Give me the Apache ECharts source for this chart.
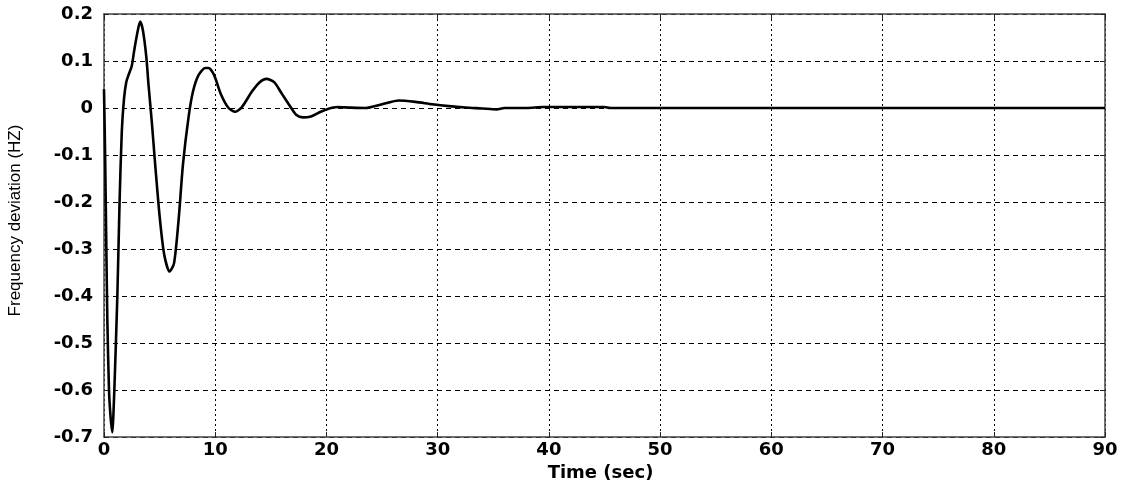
<!DOCTYPE html>
<html>
<head>
<meta charset="utf-8">
<script src="https://cdn.jsdelivr.net/npm/echarts@6/dist/echarts.min.js"></script>
<style>
  html, body { margin: 0; padding: 0; background: #fff; }
  #chart { width: 1131px; height: 486px; }
</style>
</head>
<body>
<div id="chart"></div>
<script>
// Frequency deviation response of the system over time
const timeSec = [
  0, 0.1, 0.2, 0.3, 0.45, 0.6, 0.75, 0.85, 1.0, 1.2, 1.4, 1.6, 1.8, 2.0, 2.2, 2.5, 2.7, 3.0, 3.25,
  3.5, 3.8, 4.0, 4.3, 4.6, 5.0, 5.4, 5.9, 6.3, 6.7, 7.1, 7.6, 8.0, 8.5, 9.1, 9.4, 9.9, 10.5,
  11.2, 11.8, 12.4, 13.3, 14.0, 14.6, 15.3, 16.0, 16.7, 17.3, 17.9, 18.6, 19.3, 20.0, 21.0,
  22.0, 23.5, 25.0, 26.5, 28.0, 29.5, 31.0, 32.5, 34.0, 35.3, 36.0, 38.0, 39.5, 42.0, 45.0,
  45.5, 50.0, 60.0, 70.0, 80.0, 90.0
];
const deviationHz = [
  0.04, -0.1, -0.28, -0.45, -0.6, -0.66, -0.69, -0.65, -0.55, -0.4, -0.2, -0.05, 0.02, 0.055, 0.07, 0.09, 0.12, 0.16, 0.184,
  0.165, 0.11, 0.05, -0.03, -0.12, -0.23, -0.31, -0.348, -0.33, -0.24, -0.12, -0.02, 0.035, 0.07, 0.085, 0.085, 0.07, 0.03,
  0.0, -0.008, 0.002, 0.035, 0.055, 0.062, 0.055, 0.03, 0.005, -0.015, -0.02, -0.018, -0.01, -0.003, 0.002,
  0.001, 0.0, 0.008, 0.016, 0.013, 0.008, 0.004, 0.001, -0.001, -0.003, 0.0, 0.0, 0.002, 0.002, 0.002,
  0.0, 0.0, 0.0, 0.0, 0.0, 0.0
];
const xTicks = { min: 0, max: 90, step: 10 };
const yTicks = { min: -0.7, max: 0.2, step: 0.1 };

const points = timeSec.map((t, i) => [t, deviationHz[i]]);

const labelFont = { fontFamily: 'DejaVu Sans, sans-serif', fontWeight: 'bold', fontSize: 18, color: '#000' };
const frameLine = { show: true, onZero: false, lineStyle: { color: '#444', width: 1.5 } };
const innerTick = { show: true, inside: true, length: 5, lineStyle: { color: '#222', width: 1 } };

const chart = echarts.init(document.getElementById('chart'), null, { renderer: 'canvas' });
chart.setOption({
  animation: false,
  backgroundColor: '#fff',
  grid: { left: 104, right: 26, top: 14, bottom: 49, containLabel: false, outerBoundsMode: 'none' },
  xAxis: [
    {
      type: 'value', min: xTicks.min, max: xTicks.max, interval: xTicks.step,
      name: 'Time (sec)', nameLocation: 'middle', nameGap: 27,
      nameTextStyle: Object.assign({ padding: [0, 8, 0, 0] }, labelFont),
      axisLine: frameLine, axisTick: innerTick,
      axisLabel: Object.assign({ margin: 4 }, labelFont),
      splitLine: { show: true, lineStyle: { color: '#000', width: 1, type: [2, 3] } }
    },
    {
      type: 'value', position: 'top', min: xTicks.min, max: xTicks.max, interval: xTicks.step,
      axisLine: frameLine, axisTick: innerTick, axisLabel: { show: false }, splitLine: { show: false }
    }
  ],
  yAxis: [
    {
      type: 'value', min: yTicks.min, max: yTicks.max, interval: yTicks.step,
      name: 'Frequency deviation (HZ)', nameLocation: 'middle', nameGap: 80, nameRotate: 90,
      nameTextStyle: {
        fontFamily: 'Liberation Sans, Arial, sans-serif', fontSize: 17, color: '#000',
        padding: [0, 0, 0, 10]
      },
      axisLine: frameLine, axisTick: innerTick,
      axisLabel: Object.assign({
        margin: 11,
        formatter: v => { const r = Math.round(v * 10) / 10; return r === 0 ? '0' : r.toFixed(1); }
      }, labelFont),
      splitLine: { show: true, lineStyle: { color: '#000', width: 1, type: [5, 4] } }
    },
    {
      type: 'value', position: 'right', min: yTicks.min, max: yTicks.max, interval: yTicks.step,
      axisLine: frameLine, axisTick: innerTick, axisLabel: { show: false }, splitLine: { show: false }
    }
  ],
  series: [
    {
      type: 'line', xAxisIndex: 0, yAxisIndex: 0,
      data: points, showSymbol: false, smooth: 0.25,
      lineStyle: { color: '#000', width: 2.6 }
    }
  ]
});
</script>
</body>
</html>
